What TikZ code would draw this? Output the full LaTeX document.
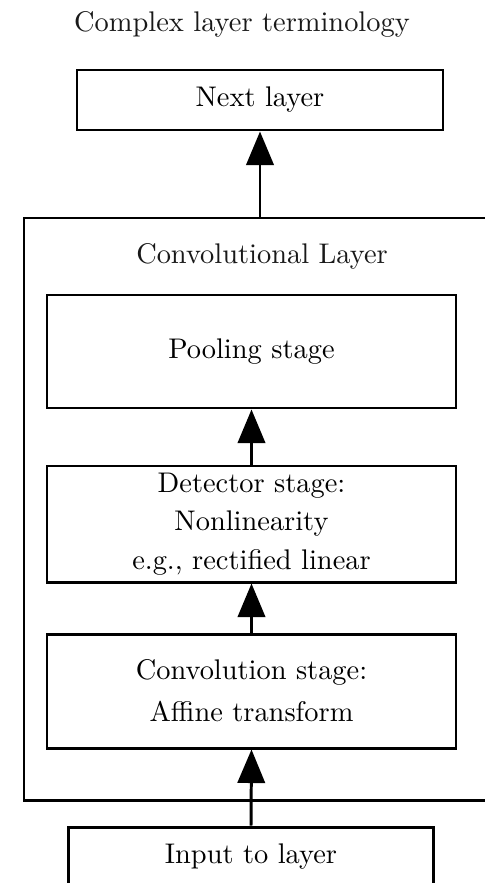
\documentclass[tikz,border=0pt]{standalone}
\usetikzlibrary{arrows.meta}
\newcommand\pxu{0.352pt}
\tikzset{
  stagebox/.style={draw, line width=1.05pt, rectangle, align=center, inner sep=0pt},
  flow/.style={line width=1.05pt, -{Triangle[length=11.8pt,width=9.6pt]}},
  lbl/.style={inner sep=0pt, text=black!90},
}
\begin{document}
\begin{tikzpicture}[x=\pxu, y=-\pxu]
  \useasboundingbox (0,0) rectangle (485,883);
  \clip (0,0) rectangle (485,883);
  \fill[white] (0,0) rectangle (485,883);

  % title
  \node[lbl] (title) at (242,24) {Complex layer terminology};

  % next layer
  \node[stagebox, minimum width=366*\pxu, minimum height=60*\pxu] (next) at (260,100) {Next layer};

  % outer convolutional layer frame
  \node[draw, line width=1.05pt, minimum width=472*\pxu, minimum height=582*\pxu, inner sep=0pt] (layer) at (260,509) {};
  \node[lbl] (layerlbl) at (262,256) {Convolutional Layer};

  % stages
  \node[stagebox, minimum width=409*\pxu, minimum height=113*\pxu] (pool) at (251.5,351.5) {Pooling stage};
  \node[stagebox, minimum width=409*\pxu, minimum height=116*\pxu] (det) at (251.5,524)
    {Detector stage:\\[1.5pt] Nonlinearity\\[1.5pt] e.g., rectified linear};
  \node[stagebox, minimum width=409*\pxu, minimum height=114*\pxu] (convst) at (251.5,691)
    {Convolution stage:\\[2.8pt] Affine transform};

  % input
  \node[stagebox, minimum width=365*\pxu, minimum height=60*\pxu] (input) at (251,857) {Input to layer};

  % connections
  \draw[flow] (layer.north) -- (next.south);
  \draw[flow] (det.north) -- (pool.south);
  \draw[flow] (convst.north) -- (det.south);
  \draw[flow] (input.north) -- (convst.south);
\end{tikzpicture}
\end{document}
